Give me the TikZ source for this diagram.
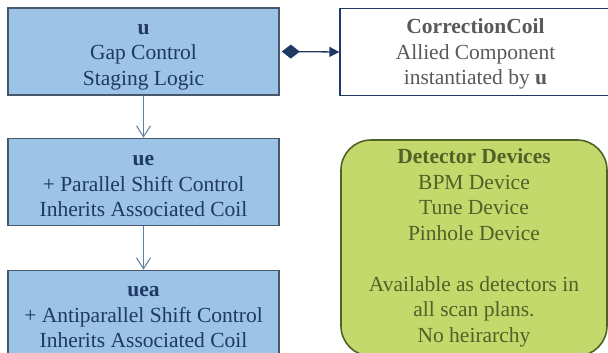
\documentclass[tikz,border=0pt]{standalone}
\usepackage{fontspec}
\setmainfont{Liberation Serif}
\newfontfamily\tnr{Liberation Serif}
\usetikzlibrary{arrows.meta}
\definecolor{bfill}{HTML}{9DC3E6}
\definecolor{bdraw}{HTML}{46586E}
\definecolor{btext}{HTML}{1F3864}
\definecolor{navy}{HTML}{1F3864}
\definecolor{gtext}{HTML}{595959}
\definecolor{gfill}{HTML}{C4D86C}
\definecolor{gdraw}{HTML}{4F6228}
\definecolor{conncol}{HTML}{5F7FA3}
\begin{document}
\begin{tikzpicture}[x=1pt,y=-1pt,
  txt/.style={align=center,font=\tnr\fontsize{21.5}{25.5}\selectfont,inner sep=0pt},
  bluebox/.style={txt,draw=bdraw,line width=1.6pt,fill=bfill,text=btext,minimum width=271pt,minimum height=87pt},
  whitebox/.style={txt,draw=navy,line width=1.4pt,fill=white,text=gtext,minimum width=271pt,minimum height=87pt},
  greenbox/.style={txt,draw=gdraw,line width=1.6pt,fill=gfill,text=gdraw,rounded corners=30pt,minimum width=266pt,minimum height=216pt},
  conn/.style={draw=conncol,line width=1.3pt,-{Straight Barb[length=11pt,width=14pt,line width=1pt]}},
  comp/.style={draw=navy,line width=1.3pt,{Diamond[length=18pt,width=14pt,fill=navy]}-{Triangle[length=10pt,width=10pt,fill=navy]}}
]
\useasboundingbox (0,0) rectangle (608,353);
\clip (0,0) rectangle (608,353);
\fill[white] (0,0) rectangle (608,353);
\node[bluebox] (u) at (143.5,51.5) {\rule{0pt}{21pt}\textbf{u}\\Gap Control\\Staging Logic};
\node[bluebox] (ue) at (143.5,182) {\rule{0pt}{19pt}\textbf{ue}\\+ Parallel Shift Control\\Inherits Associated Coil};
\node[bluebox] (uea) at (143.5,314) {\rule{0pt}{17pt}\textbf{uea}\\+ Antiparallel Shift Control\\Inherits Associated Coil};
\node[whitebox] (cc) at (475.5,52) {\rule{0pt}{19pt}\textbf{CorrectionCoil}\\Allied Component\\instantiated by \textbf{u}\vphantom{g}};
\node[greenbox] (det) at (474,248) {\textbf{Detector Devices}\\BPM Device\\Tune Device\\Pinhole Device\\[25.5pt]Available as detectors in\\all scan plans.\\No heirarchy};
\draw[conn] (u.south) -- (ue.north);
\draw[conn] (ue.south) -- (uea.north);
\draw[comp,shorten <=2pt] (u.east) -- (cc.west);
\end{tikzpicture}
\end{document}
